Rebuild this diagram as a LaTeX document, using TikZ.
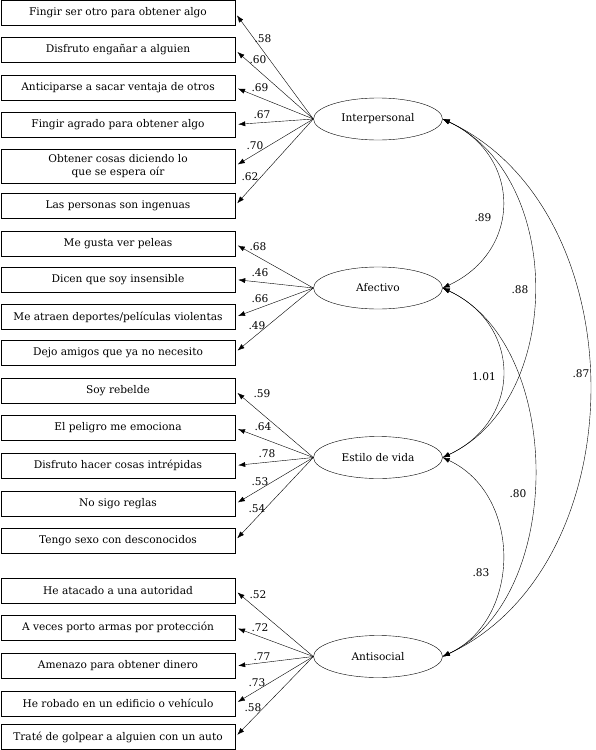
\documentclass[tikz,border=0pt]{standalone}
\usepackage{fontspec}
\setmainfont{DejaVu Serif}
\usetikzlibrary{shapes.geometric,arrows.meta}

\begin{document}
\begin{tikzpicture}[x=1pt,y=-1pt,
    font=\fontsize{10.6}{12.5}\selectfont,
    item/.style={draw, thin, minimum width=234pt, minimum height=25pt, inner sep=1pt, align=center},
    factor/.style={draw, thin, ellipse, minimum width=129pt, minimum height=42pt, inner sep=0pt},
    load/.style={thin, -{Latex[length=7pt,width=5pt]}, shorten >=3pt},
    corr/.style={thin, {Latex[length=7pt,width=5pt]}-{Latex[length=7pt,width=5pt]}},
    coef/.style={inner sep=0pt}]
    \useasboundingbox (0,0) rectangle (595,750);

    % observed items
    \node[item] (i1) at (118,13) {Fingir ser otro para obtener algo};
    \node[item] (i2) at (118,50) {Disfruto engañar a alguien};
    \node[item] (i3) at (118,87.5) {Anticiparse a sacar ventaja de otros};
    \node[item] (i4) at (118,124.5) {Fingir agrado para obtener algo};
    \node[item, minimum height=34pt] (i5) at (118,166) {Obtener cosas diciendo lo\\que se espera oír};
    \node[item] (i6) at (118,205.5) {Las personas son ingenuas};
    \node[item] (i7) at (118,244) {Me gusta ver peleas};
    \node[item] (i8) at (118,279.5) {Dicen que soy insensible};
    \node[item] (i9) at (118,317) {Me atraen deportes/películas violentas};
    \node[item] (i10) at (118,352.5) {Dejo amigos que ya no necesito};
    \node[item] (i11) at (118,391) {Soy rebelde};
    \node[item] (i12) at (118,428) {El peligro me emociona};
    \node[item] (i13) at (118,465.5) {Disfruto hacer cosas intrépidas};
    \node[item] (i14) at (118,504) {No sigo reglas};
    \node[item] (i15) at (118,540.5) {Tengo sexo con desconocidos};
    \node[item] (i16) at (118,590.5) {He atacado a una autoridad};
    \node[item] (i17) at (118,627.5) {A veces porto armas por protección};
    \node[item] (i18) at (118,666) {Amenazo para obtener dinero};
    \node[item] (i19) at (118,703.5) {He robado en un edificio o vehículo};
    \node[item] (i20) at (118,737) {Traté de golpear a alguien con un auto};

    % latent factors
    \node[factor] (ip) at (378,119) {Interpersonal};
    \node[factor] (af) at (378,288) {Afectivo};
    \node[factor] (ev) at (378,457.5) {Estilo de vida};
    \node[factor] (an) at (378,656.5) {Antisocial};

    % loadings
    \foreach \i/\c/\x/\y in {1/.58/263/39, 2/.60/258/60, 3/.69/260/88, 4/.67/262/115, 5/.70/255/146, 6/.62/250/177}{
        \draw[load] (ip.west) -- (i\i.east);
        \node[coef] (c\i) at (\x,\y) {\c};
    }
    \foreach \i/\c/\x/\y in {7/.68/258/247, 8/.46/260/273, 9/.66/260/299, 10/.49/257/326}{
        \draw[load] (af.west) -- (i\i.east);
        \node[coef] (c\i) at (\x,\y) {\c};
    }
    \foreach \i/\c/\x/\y in {11/.59/262/394, 12/.64/263/427, 13/.78/267/454, 14/.53/260/482, 15/.54/257/509}{
        \draw[load] (ev.west) -- (i\i.east);
        \node[coef] (c\i) at (\x,\y) {\c};
    }
    \foreach \i/\c/\x/\y in {16/.52/258/595, 17/.72/260/628, 18/.77/262/657, 19/.73/257/683, 20/.58/253/708}{
        \draw[load] (an.west) -- (i\i.east);
        \node[coef] (c\i) at (\x,\y) {\c};
    }

    % correlations
    \draw[corr] (ip.east) to[out=-25, in=25, looseness=1.33] (af.east);
    \draw[corr] (ip.east) to[out=-25, in=25, looseness=1.02] (ev.east);
    \draw[corr] (ip.east) to[out=-25, in=25, looseness=1.03] (an.east);
    \draw[corr] (af.east) to[out=-25, in=25, looseness=1.33] (ev.east);
    \draw[corr] (af.east) to[out=-25, in=25, looseness=0.94] (an.east);
    \draw[corr] (ev.east) to[out=-25, in=25, looseness=1.13] (an.east);
    \node[coef] (r1) at (483,218) {.89};
    \node[coef] (r2) at (520,290) {.88};
    \node[coef] (r3) at (581,374) {.87};
    \node[coef] (r4) at (484,377) {1.01};
    \node[coef] (r5) at (518,494) {.80};
    \node[coef] (r6) at (481,573) {.83};
\end{tikzpicture}
\end{document}
